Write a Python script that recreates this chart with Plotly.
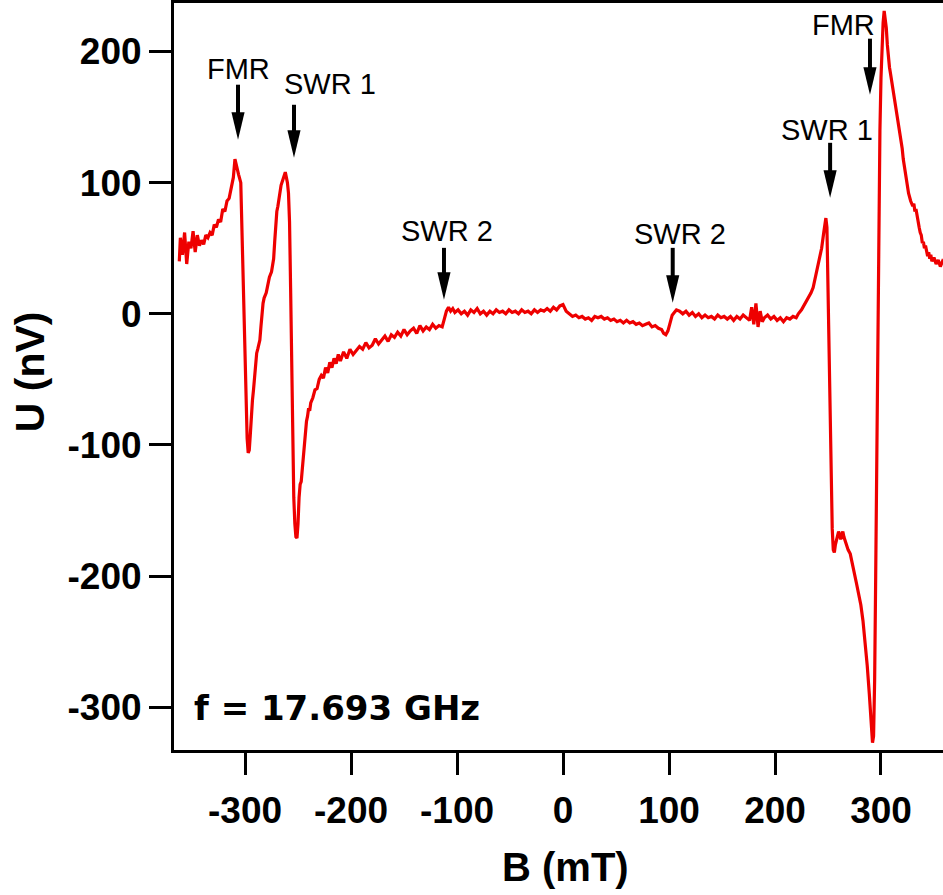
import plotly.graph_objects as go

# Field sweep (mT) and detected voltage (nV)
B_MT = [
    -362, -361, -359, -357, -355, -353, -351, -349, -347, -345,
    -343, -341, -339, -337, -335, -333, -331, -329, -327, -325,
    -323, -321, -319, -317, -315, -313, -311, -309.5, -308, -306,
    -304, -303, -302, -301, -300, -299, -298, -297, -296, -295,
    -294, -293, -292, -291, -290, -289, -288, -286, -285, -284,
    -283, -282, -280, -279, -277, -275, -273, -272, -271, -270,
    -269, -268, -267, -266, -264, -262, -261, -260, -259, -258,
    -257, -256, -255, -254, -253, -252, -251, -250, -249, -248,
    -247, -246, -245, -244, -243, -242, -241, -240, -239, -238,
    -236, -234, -232, -230, -228, -226, -224, -222, -220, -218,
    -216, -214, -212, -210, -207, -204, -201, -198, -195, -192,
    -189, -186, -183, -180, -177, -174, -171, -168, -165, -162,
    -159, -156, -153, -150, -147, -144, -141, -138, -135, -132,
    -129, -126, -123, -120, -117, -114, -112, -110, -108, -106,
    -104, -102, -99, -96, -93, -90, -87, -84, -81, -78,
    -75, -72, -69, -66, -63, -60, -57, -54, -51, -48,
    -45, -42, -39, -36, -33, -30, -27, -24, -21, -18,
    -15, -12, -9, -6, -3, 0, 3, 6, 9, 12,
    15, 18, 21, 24, 27, 30, 33, 36, 39, 42,
    45, 48, 51, 54, 57, 60, 63, 66, 69, 72,
    75, 78, 81, 84, 87, 90, 93, 95, 97, 99,
    101, 103, 105, 107, 110, 113, 116, 119, 122, 125,
    128, 131, 134, 137, 140, 143, 146, 149, 152, 155,
    158, 161, 164, 167, 170, 173, 176, 178, 180, 182,
    184, 186, 188, 190, 193, 196, 199, 202, 205, 208,
    211, 214, 217, 220, 222, 225, 228, 231, 234, 236,
    238, 240, 242, 244, 246, 247, 248, 249, 250, 251,
    252, 253, 254, 255, 256, 257, 258, 259, 260, 261,
    262, 263, 264, 265, 267, 269, 271, 273, 275, 277,
    279, 281, 283, 285, 287, 289, 290, 291, 292, 293,
    294, 295, 296, 297, 298, 299, 300, 301, 302, 303,
    304, 305, 306, 307, 308, 309, 310, 311, 312, 313,
    314, 315, 316, 317, 318, 319, 320, 321, 322, 323,
    324, 325, 326, 328, 330, 331, 332, 333, 334, 335,
    336, 337, 338, 339, 340, 341, 342, 343, 344, 345,
    346, 347, 348, 350, 352, 354, 356, 358, 360,
]

U_NV = [
    40, 58, 45, 62, 38, 55, 50, 63, 47, 60,
    52, 56, 53, 60, 58, 62, 60, 68, 66, 72,
    70, 80, 78, 86, 88, 96, 104, 118, 112, 106,
    100, 70, 30, -10, -40, -70, -95, -106, -104, -92,
    -75, -66, -58, -48, -40, -30, -27, -20, -10, 0,
    8, 12, 16, 20, 28, 32, 42, 55, 68, 78,
    82, 88, 92, 98, 103, 108, 104, 100, 92, 70,
    20, -40, -100, -140, -160, -170, -171, -160, -140, -130,
    -128, -118, -110, -100, -90, -82, -78, -72, -74, -68,
    -64, -58, -57, -50, -47, -49, -41, -45, -37, -41,
    -34, -38, -31, -36, -29, -34, -27, -31, -28, -25,
    -27, -22, -26, -24, -19, -23, -20, -17, -21, -16,
    -18, -14, -17, -12, -16, -13, -11, -15, -9, -13,
    -10, -12, -8, -11, -9, -10, -4, 2, 5, 2,
    4, 1, 3, 0, 2, -1, 3, 1, 4, 0,
    2, -1, 2, 0, 3, 1, 2, 0, 3, 1,
    2, 0, 3, 1, 2, 0, 3, 1, 3, 2,
    4, 2, 5, 3, 6, 7, 2, 0, -2, -1,
    -3, -2, -4, -3, -5, -2, -3, -2, -4, -3,
    -5, -4, -6, -5, -7, -5, -7, -6, -8, -7,
    -9, -8, -7, -10, -9, -11, -12, -15, -16, -13,
    -6, -1, 1, 3, 2, 0, 2, -1, 1, -2,
    0, -3, -1, -3, -2, -4, -1, -3, -2, -4,
    -2, -5, -2, -4, -1, -3, -5, 5, -8, 8,
    -10, 2, -6, -3, -1, -4, -2, -5, -3, -6,
    -3, -4, -2, -3, 0, 3, 7, 12, 16, 20,
    28, 36, 42, 50, 62, 68, 73, 66, 20, -50,
    -105, -145, -164, -180, -182, -176, -172, -168, -166, -169,
    -172, -168, -166, -170, -175, -180, -183, -190, -198, -206,
    -214, -222, -234, -250, -268, -290, -305, -318, -327, -322,
    -280, -200, -110, -20, 70, 140, 180, 205, 222, 231,
    226, 218, 205, 195, 188, 183, 178, 172, 168, 163,
    156, 150, 146, 142, 138, 133, 126, 118, 112, 106,
    100, 96, 92, 86, 82, 84, 78, 80, 74, 70,
    66, 62, 60, 54, 55, 50, 52, 48, 44, 47,
    42, 45, 40, 43, 38, 41, 36, 40, 38,
]
assert len(B_MT) == len(U_NV)

X_TICKS = [-300, -200, -100, 0, 100, 200, 300]
X_TICK_TEXT = ["-300", "-200", "-100", "0", "100", "200", "300"]
Y_TICKS = [-300, -200, -100, 0, 100, 200]
Y_TICK_TEXT = ["-300", "-200", "-100", "0", "100", "200"]
X_RANGE = [-367, 358.5]
Y_RANGE = [-332.6, 237]

# Resonance markers: label text/position and arrow (field, tip, tail)
LABEL_TEXT = ["FMR", "SWR 1", "SWR 2", "SWR 2", "SWR 1", "FMR"]
LABEL_B = [-306, -220, -109, 110, 249.5, 265]
LABEL_U = [187, 175, 63, 61, 140, 220]
ARROW_B = [-306.6, -253.8, -112.3, 103.5, 252.0, 289.6]
ARROW_TIP_U = [132.7, 119.0, 10.7, 8.4, 88.5, 167.0]
ARROW_TAIL_U = [174.7, 159.4, 50.3, 50.3, 130.4, 209.8]
HEAD_LEN_U = 21
HEAD_HALF_B = 6.2

FREQ_LABEL = "f = 17.693 GHz"

FONT = "Liberation Sans, Arial, sans-serif"

fig = go.Figure()
fig.add_trace(go.Scatter(
    x=B_MT, y=U_NV, mode="lines",
    line=dict(color="rgb(238,0,0)", width=3.2),
    hoverinfo="skip", showlegend=False,
))

for b, tip, tail in zip(ARROW_B, ARROW_TIP_U, ARROW_TAIL_U):
    fig.add_shape(type="line", xref="x", yref="y",
                  x0=b, x1=b, y0=tail, y1=tip + HEAD_LEN_U * 0.8,
                  line=dict(color="black", width=4))
    fig.add_shape(type="path", xref="x", yref="y",
                  path=(f"M {b - HEAD_HALF_B},{tip + HEAD_LEN_U} "
                        f"L {b + HEAD_HALF_B},{tip + HEAD_LEN_U} "
                        f"L {b},{tip} Z"),
                  fillcolor="black", line=dict(width=0))

for txt, b, u in zip(LABEL_TEXT, LABEL_B, LABEL_U):
    fig.add_annotation(x=b, y=u, xref="x", yref="y", text=txt,
                       showarrow=False, xanchor="center", yanchor="middle",
                       font=dict(family=FONT, size=29, color="black"))

fig.add_annotation(x=-350, y=-300.5, xref="x", yref="y", text=FREQ_LABEL,
                   showarrow=False, xanchor="left", yanchor="middle",
                   font=dict(family="DejaVu Sans, sans-serif", size=34,
                             color="black", weight="bold"))

# Axis titles
fig.add_annotation(x=-0.187, y=0.506, xref="paper", yref="paper",
                   text="U (nV)", textangle=-90, showarrow=False,
                   xanchor="center", yanchor="middle",
                   font=dict(family=FONT, size=41, color="black", weight="bold"))
fig.add_annotation(x=0.509, y=-0.157, xref="paper", yref="paper",
                   text="B (mT)", showarrow=False,
                   xanchor="center", yanchor="middle",
                   font=dict(family=FONT, size=40, color="black", weight="bold"))

axis_common = dict(
    showgrid=False, zeroline=False,
    showline=True, linewidth=3, linecolor="black",
    ticks="outside", ticklen=22, tickwidth=3, tickcolor="black",
    tickfont=dict(family=FONT, size=37, color="black", weight="bold"),
)

fig.update_layout(
    width=943, height=895,
    margin=dict(l=174, r=0, t=3, b=145),
    paper_bgcolor="white", plot_bgcolor="white",
    xaxis=dict(range=X_RANGE, tickvals=X_TICKS, ticktext=X_TICK_TEXT,
               ticklabelstandoff=4, mirror=True, **axis_common),
    yaxis=dict(range=Y_RANGE, tickvals=Y_TICKS, ticktext=Y_TICK_TEXT,
               mirror=False, **axis_common),
)

fig.write_html("out.html")
